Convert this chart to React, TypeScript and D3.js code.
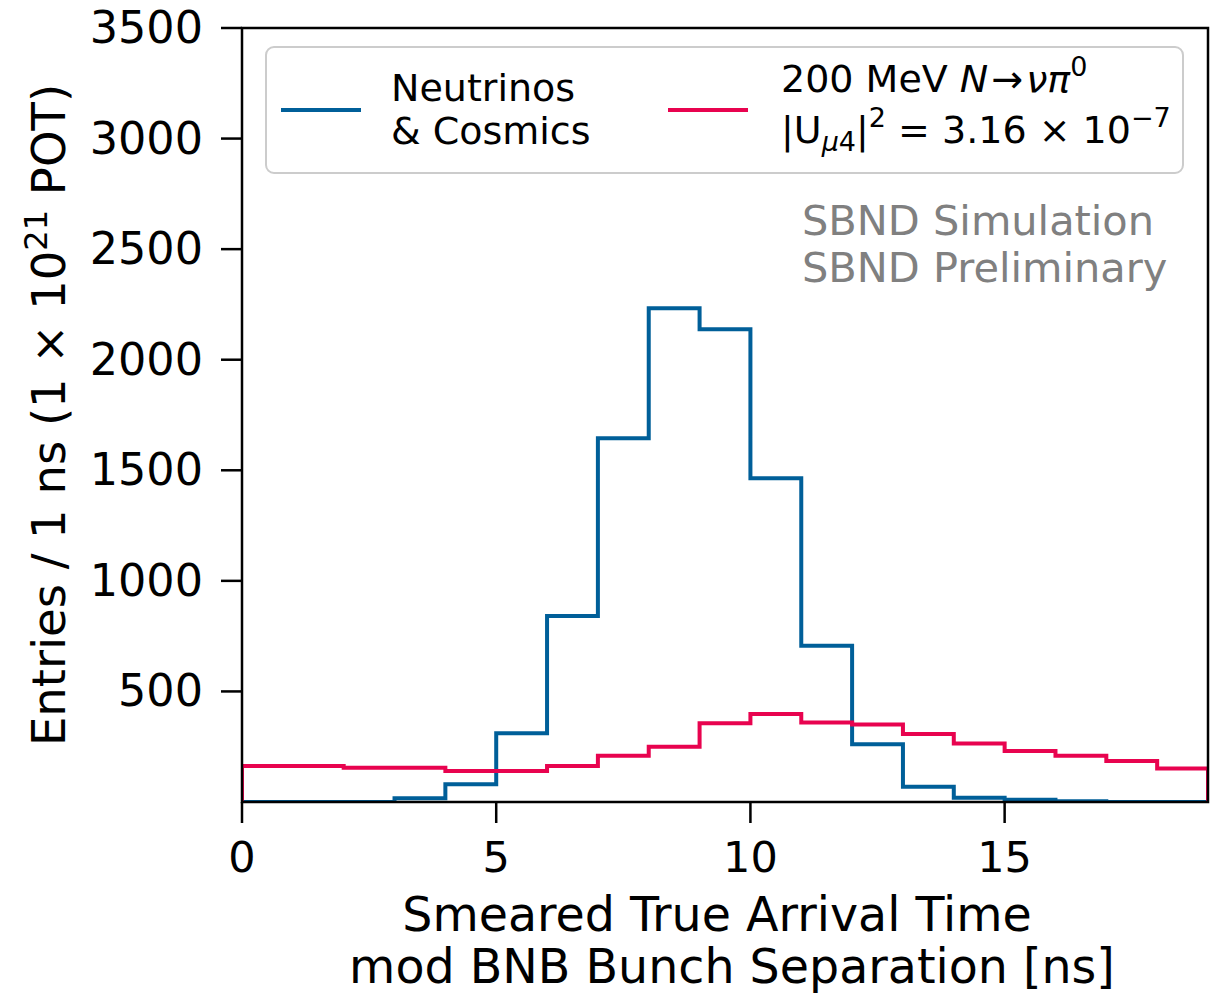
import React from "react";
import * as d3 from "d3";

const binEdges = [0, 1, 2, 3, 4, 5, 6, 7, 8, 9, 10, 11, 12, 13, 14, 15, 16, 17, 18, 19];
const neutrinosCosmics = [0, 0, 0, 17, 80, 311, 841, 1645, 2233, 2138, 1464, 706, 261, 69, 19, 10, 3, 0, 0];
const hnlSignal = [163, 163, 155, 155, 140, 140, 163, 209, 250, 356, 398, 360, 351, 308, 265, 231, 209, 185, 152];
const xTicks = [0, 5, 10, 15];
const yTicks = [500, 1000, 1500, 2000, 2500, 3000, 3500];

const BLUE = "#005f99";
const RED = "#e8034f";
const FONT = "DejaVu Sans";

export default function App() {
  const W = 1218, H = 996;
  const left = 242, right = 1208, top = 28, bottom = 802;
  const x = d3.scaleLinear().domain([0, 19]).range([left, right]);
  const y = d3.scaleLinear().domain([0, 3500]).range([bottom, top]);

  const stepPoints = (vals: number[]): [number, number][] => {
    const pts: [number, number][] = [[binEdges[0], 0]];
    vals.forEach((v, i) => {
      pts.push([binEdges[i], v]);
      pts.push([binEdges[i + 1], v]);
    });
    pts.push([binEdges[binEdges.length - 1], 0]);
    return pts;
  };
  const line = d3.line<[number, number]>().x(d => x(d[0])).y(d => y(d[1]));

  return (
    <svg width={W} height={H} style={{ position: "absolute", left: 0, top: 0, background: "#fff" }} fontFamily={FONT}>
      <defs>
        <clipPath id="plotclip">
          <rect x={left} y={top} width={right - left} height={bottom - top} />
        </clipPath>
      </defs>
      <rect x={0} y={0} width={W} height={H} fill="#fff" />
      <g clipPath="url(#plotclip)">
        <path d={line(stepPoints(neutrinosCosmics)) || ""} fill="none" stroke={BLUE} strokeWidth={4} strokeLinejoin="miter" />
        <path d={line(stepPoints(hnlSignal)) || ""} fill="none" stroke={RED} strokeWidth={4} strokeLinejoin="miter" />
      </g>
      {/* spines */}
      <rect x={left} y={top} width={right - left} height={bottom - top} fill="none" stroke="#000" strokeWidth={2.5} />
      {/* x ticks */}
      {xTicks.map(t => (
        <g key={"x" + t}>
          <line x1={x(t)} x2={x(t)} y1={bottom} y2={bottom + 21} stroke="#000" strokeWidth={2.5} />
          <text x={x(t)} y={872} fontSize={43} textAnchor="middle" fill="#000">{t}</text>
        </g>
      ))}
      {/* y ticks */}
      {yTicks.map(t => (
        <g key={"y" + t}>
          <line x1={left - 21} x2={left} y1={y(t)} y2={y(t)} stroke="#000" strokeWidth={2.5} />
          <text x={203} y={y(t) + 15} fontSize={44.5} textAnchor="end" fill="#000">{t}</text>
        </g>
      ))}
      {/* axis labels */}
      <text x={717} y={931} fontSize={47.5} textAnchor="middle">Smeared True Arrival Time</text>
      <text x={732} y={983} fontSize={47.5} textAnchor="middle">mod BNB Bunch Separation [ns]</text>
      <text transform={`translate(65,${(top + bottom) / 2}) rotate(-90)`} fontSize={46.5} textAnchor="middle">
        <tspan>Entries / 1 ns (1 × 10</tspan>
        <tspan fontSize={32} dy={-18}>21</tspan>
        <tspan dy={18}> POT)</tspan>
      </text>
      {/* legend */}
      <rect x={266} y={47} width={917} height={126} rx={8} ry={8} fill="#fff" stroke="#cccccc" strokeWidth={2} />
      <line x1={281} x2={361} y1={110} y2={110} stroke={BLUE} strokeWidth={4} />
      <text x={391} y={101} fontSize={38}>Neutrinos</text>
      <text x={391} y={144} fontSize={38}>&amp; Cosmics</text>
      <line x1={668} x2={748} y1={110} y2={110} stroke={RED} strokeWidth={4} />
      <text x={781} y={92} fontSize={38}>
        <tspan>200 MeV </tspan>
        <tspan fontStyle="italic">N</tspan>
        <tspan dx={3}>→</tspan>
        <tspan dx={3} fontStyle="italic">νπ</tspan>
        <tspan fontSize={27} dy={-16}>0</tspan>
      </text>
      <text x={781} y={143} fontSize={38}>
        <tspan>|U</tspan>
        <tspan fontSize={27} dy={8} fontStyle="italic">μ</tspan>
        <tspan fontSize={27}>4</tspan>
        <tspan dy={-8}>|</tspan>
        <tspan fontSize={27} dy={-16}>2</tspan>
        <tspan dy={16}> = 3.16 × 10</tspan>
        <tspan fontSize={27} dy={-16}>−7</tspan>
      </text>
      {/* watermark */}
      <text x={802} y={235} fontSize={41.5} fill="#808080">SBND Simulation</text>
      <text x={802} y={282} fontSize={41.5} fill="#808080">SBND Preliminary</text>
    </svg>
  );
}
